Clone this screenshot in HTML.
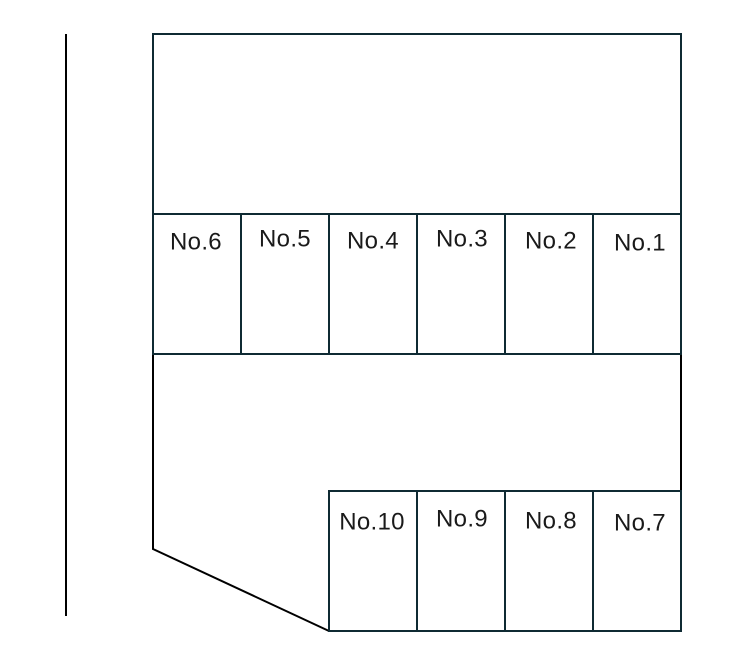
<!DOCTYPE html>
<html><head><meta charset="utf-8"><style>
html,body{margin:0;padding:0;background:#fff;width:735px;height:669px;overflow:hidden}
svg{display:block}
text{font-family:"Liberation Sans","Noto Sans CJK JP",sans-serif;font-size:24px;fill:#1a1a1a;text-anchor:middle;dominant-baseline:middle;letter-spacing:0.3px}
</style></head><body>
<svg width="735" height="669" viewBox="0 0 735 669">
<g stroke="#000" stroke-width="2" fill="none">
<line x1="66" y1="34" x2="66" y2="616"/>
<polyline points="153,354 153,549 329,631"/>
<line x1="681" y1="354" x2="681" y2="491"/>
</g>
<g stroke="#0f2a33" stroke-width="2" fill="none">
<rect x="153" y="34" width="528" height="180"/>
<rect x="153" y="214" width="528" height="140"/>
<line x1="241" y1="214" x2="241" y2="354"/>
<line x1="329" y1="214" x2="329" y2="354"/>
<line x1="417" y1="214" x2="417" y2="354"/>
<line x1="505" y1="214" x2="505" y2="354"/>
<line x1="593" y1="214" x2="593" y2="354"/>
<rect x="329" y="491" width="352" height="140"/>
<line x1="417" y1="491" x2="417" y2="631"/>
<line x1="505" y1="491" x2="505" y2="631"/>
<line x1="593" y1="491" x2="593" y2="631"/>
</g>
<text x="196" y="243">No.6</text>
<text x="285" y="240">No.5</text>
<text x="373" y="242">No.4</text>
<text x="462" y="240">No.3</text>
<text x="551" y="242">No.2</text>
<text x="640" y="244">No.1</text>
<text x="372" y="523">No.10</text>
<text x="462" y="520">No.9</text>
<text x="551" y="522">No.8</text>
<text x="640" y="524">No.7</text>
</svg>
</body></html>
